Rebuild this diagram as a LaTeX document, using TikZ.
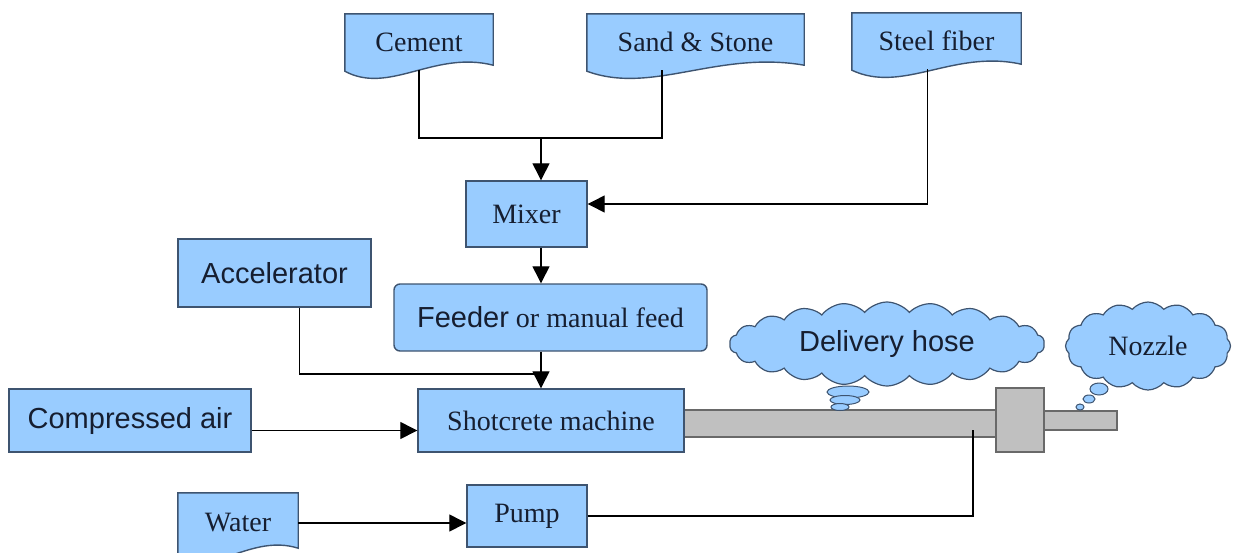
\documentclass[tikz,border=0pt]{standalone}
\usepackage{fontspec}
\setmainfont{Liberation Serif}
\newfontfamily\arialfont{Liberation Sans}
\usetikzlibrary{arrows.meta,shapes.symbols,calc,backgrounds}
\definecolor{boxblue}{RGB}{153,204,255}
\definecolor{boxedge}{RGB}{62,84,112}
\definecolor{hosegray}{RGB}{192,192,192}
\definecolor{hoseedge}{RGB}{105,105,105}
\definecolor{inktext}{RGB}{22,30,48}
\newcommand{\sanstxt}{\arialfont\fontsize{29}{32}\selectfont}
% wavy "document" outline round a named node
\newcommand{\docshape}[1]{%
  \filldraw[docbox] (#1.north west) -- (#1.north east) -- ([yshift=5pt]#1.south east)
    .. controls ($(#1.south west)!0.6!(#1.south east)+(0,-20)$) and ($(#1.south west)!0.3!(#1.south east)+(0,25)$)
    .. ([yshift=-1pt]#1.south west) -- cycle;}

\begin{document}
\begin{tikzpicture}[x=1pt,y=-1pt,every node/.style={align=center,inner sep=0pt,text=inktext,font=\fontsize{28}{32}\selectfont},
  box/.style={draw=boxedge,fill=boxblue,line width=1.4pt},
  docbox/.style={draw=boxedge,fill=boxblue,line width=1.4pt},
  talk/.style={cloud,cloud puffs=22,cloud puff arc=100,cloud ignores aspect,draw=boxedge,fill=boxblue,line width=1.2pt},
  pipe/.style={draw=hoseedge,fill=hosegray,line width=1.2pt},
  flow/.style={line width=1.3pt,-{Triangle[length=17pt,width=17pt]}},
  link/.style={line width=1.3pt}]
\useasboundingbox (0,0) rectangle (1241,552);
%================================================================
%	Hose and nozzle
\node[pipe,minimum width=312,minimum height=27] (hose) at (840,423.5) {};
\node[pipe,minimum width=73,minimum height=19] (tip) at (1080.5,420.5) {};
\node[pipe,minimum width=48,minimum height=64] (body) at (1020,420) {};
%================================================================
%	Nodes
\node[minimum width=148,minimum height=56] (cement) at (419,42) {Cement};
\node[minimum width=217,minimum height=56] (sand) at (695.5,42) {Sand \& Stone};
\node[minimum width=169,minimum height=56] (steel) at (936.5,41) {Steel fiber};
%----------------------------------------------------------------
\node[box,minimum width=121,minimum height=66] (mixer) at (526.5,214) {Mixer};
\node[box,minimum width=193,minimum height=68] (accel) at (274.5,273) {\sanstxt Accelerator};
\node[box,rounded corners=6pt,minimum width=313,minimum height=67] (feeder) at (550.5,317.5) {{\sanstxt Feeder} or manual feed};
%----------------------------------------------------------------
\node[box,minimum width=242,minimum height=63] (air) at (130,420.5) {\sanstxt Compressed air};
\node[box,minimum width=266,minimum height=63] (shot) at (551,420.5) {Shotcrete machine};
%----------------------------------------------------------------
\node[minimum width=120,minimum height=60] (water) at (238,523) {Water};
\node[box,minimum width=120,minimum height=62] (pump) at (527,516) {Pump};
%----------------------------------------------------------------
\node[talk,minimum width=315,minimum height=84] (hosetag) at (887,344) {\sanstxt Delivery hose};
\node[talk,cloud puffs=16,minimum width=165,minimum height=88] (nozzletag) at (1148,346) {Nozzle};
\filldraw[draw=boxedge,fill=boxblue,line width=1pt] (848,392) ellipse [x radius=21,y radius=6];
\filldraw[draw=boxedge,fill=boxblue,line width=1pt] (845,400) ellipse [x radius=15,y radius=4.5];
\filldraw[draw=boxedge,fill=boxblue,line width=1pt] (840,407) ellipse [x radius=9,y radius=3.5];
\filldraw[draw=boxedge,fill=boxblue,line width=1pt] (1099,389) ellipse [x radius=9,y radius=6];
\filldraw[draw=boxedge,fill=boxblue,line width=1pt] (1089,399) ellipse [x radius=6,y radius=4];
\filldraw[draw=boxedge,fill=boxblue,line width=1pt] (1080,407) ellipse [x radius=4,y radius=3];
%----------------------------------------------------------------
\begin{scope}[on background layer]
\docshape{cement}
\docshape{sand}
\docshape{steel}
\docshape{water}
\end{scope}

%================================================================
%	Lines
\coordinate (j1) at (541,138);
\coordinate (j2) at (541,374);
\coordinate (inlet) at (973,430);
\draw[link] (cement.south) |- (j1) -| ([xshift=-33.5pt]sand.south);
\draw[flow] (j1) -- (j1 |- mixer.north);
\draw[flow] ([xshift=-9pt]steel.south) |- ([yshift=10pt]mixer.east);
\draw[flow] (mixer.south -| j1) -- (feeder.north -| j1);
%----------------------------------------------------------------
\draw[link] ([xshift=25pt]accel.south) |- (j2);
\draw[flow] (feeder.south -| j2) -- (shot.north -| j2);
\draw[flow] ([yshift=-10pt]air.east) -- ([yshift=-10pt]shot.west);
%----------------------------------------------------------------
\draw[flow] (water.east) -- (water.east -| pump.west);
\draw[link] (pump.east) -| (inlet);
%================================================================
\end{tikzpicture}
\end{document}
